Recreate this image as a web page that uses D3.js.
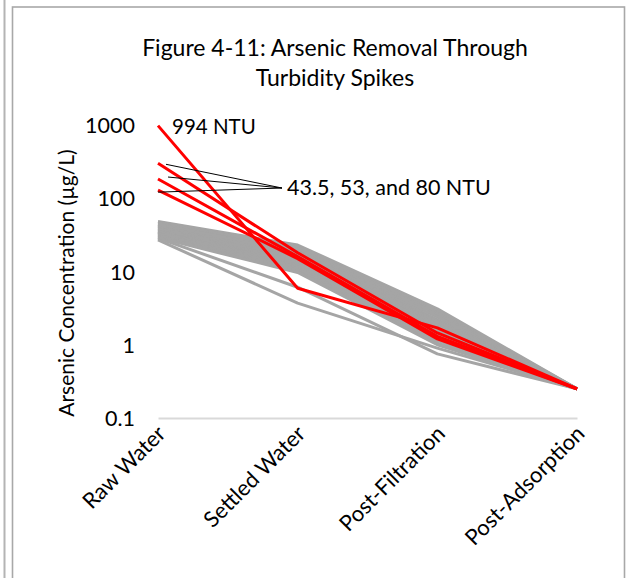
<!DOCTYPE html>
<html><head><meta charset="utf-8">
<script src="https://cdn.jsdelivr.net/npm/d3@7"></script>
<style>
body{margin:0;background:#fff}
svg text{font-family:Lato,"Open Sans",sans-serif;fill:#000}
</style>
</head><body><svg id="c" width="627" height="578"></svg>
<script>
// ---- data ----
const categories = ["Raw Water", "Settled Water", "Post-Filtration", "Post-Adsorption"];
const yTickValues = [0.1, 1, 10, 100, 1000];
const yTickLabels = ["0.1", "1", "10", "100", "1000"];
const titleLines = ["Figure 4-11: Arsenic Removal Through", "Turbidity Spikes"];
const yAxisTitle = "Arsenic Concentration (µg/L)";
// turbidity-spike runs (red)
const spike994 = [980, 5.9, 1.7, 0.25];
const spike80 = [300, 18, 1.45, 0.25];
const spike53 = [183, 16, 1.3, 0.25];
const spike435 = [129, 15, 1.2, 0.25];
const redSeries = [spike994, spike80, spike53, spike435];
// normal runs (gray)
const graySeries = [
  [48, 23, 3.1, 0.25],
  [47, 22, 2.9, 0.25],
  [45, 21.5, 2.7, 0.25],
  [44, 20, 2.6, 0.25],
  [43, 19, 2.4, 0.25],
  [42, 18.5, 2.2, 0.25],
  [41, 17, 2.1, 0.25],
  [40, 16.5, 2.0, 0.25],
  [39, 15.5, 1.9, 0.25],
  [38, 15, 1.8, 0.25],
  [37, 14, 1.7, 0.25],
  [36, 13.5, 1.6, 0.25],
  [35, 13, 1.55, 0.25],
  [34.5, 12.5, 1.45, 0.25],
  [34, 12, 1.4, 0.25],
  [33, 11.5, 1.35, 0.25],
  [32, 11, 1.25, 0.25],
  [31, 10.5, 1.15, 0.25],
  [30, 10, 1.05, 0.25],
  [29, 9.7, 1.0, 0.25],
  [28.5, 6.1, 0.75, 0.25],
  [27, 3.7, 0.9, 0.25]
];
const label994 = "994 NTU";
const labelOthers = "43.5, 53, and 80 NTU";

// ---- drawing ----
const svg = d3.select("#c");
const W = 627, H = 578;

// frame
svg.append("line").attr("x1",4.5).attr("x2",4.5).attr("y1",0).attr("y2",H)
  .attr("stroke","#b4b4b4").attr("stroke-width",2);
svg.append("rect").attr("x",12.5).attr("y",7).attr("width",612).attr("height",H+20)
  .attr("fill","none").attr("stroke","#a8a8a8").attr("stroke-width",1.6);

const x = d3.scalePoint().domain(categories).range([158, 577]).padding(0);
const y = d3.scaleLog().domain([0.1, 1000]).range([418, 125]);

// title
svg.append("text").attr("x",335).attr("y",56).attr("text-anchor","middle")
  .style("font-size","23px").text(titleLines[0]);
svg.append("text").attr("x",335).attr("y",86).attr("text-anchor","middle")
  .style("font-size","23px").text(titleLines[1]);

// y axis (labels only)
const yAxis = d3.axisLeft(y).tickValues(yTickValues)
  .tickFormat((d,i)=>yTickLabels[i]).tickSize(0).tickPadding(0);
const gy = svg.append("g").attr("transform","translate(135,0)").call(yAxis);
gy.select(".domain").remove();
gy.selectAll("text").style("font-size","21.5px").attr("dy","0.35em");

// category axis line (at 0.1)
const xAxis = d3.axisBottom(x).tickSize(0).tickFormat("");
const gx = svg.append("g").attr("transform",`translate(0,${y(0.1)})`).call(xAxis);
gx.select(".domain").attr("stroke","#d9d9d9").attr("stroke-width",2);

// category labels rotated
svg.append("g").selectAll("text").data(categories).join("text")
  .attr("transform",d=>`translate(${x(d)+9},${y(0.1)+17}) rotate(-45)`)
  .attr("text-anchor","end").style("font-size","22px").text(d=>d);

// y axis title
svg.append("text").attr("transform","translate(74,283) rotate(-90)")
  .attr("text-anchor","middle").style("font-size","21px").text(yAxisTitle);

const line = d3.line().x((d,i)=>x(categories[i])).y(d=>y(d));

svg.append("g").selectAll("path").data(graySeries).join("path")
  .attr("d",line).attr("fill","none").attr("stroke","#a5a5a5")
  .attr("stroke-width",3).attr("stroke-linejoin","round");
svg.append("g").selectAll("path").data(redSeries).join("path")
  .attr("d",line).attr("fill","none").attr("stroke","#ff0000")
  .attr("stroke-width",3).attr("stroke-linejoin","round");

// annotations
const x0 = x(categories[0]);
svg.append("text").attr("x",x0+14).attr("y",y(spike994[0])+8)
  .style("font-size","20.5px").text(label994);
const hub = [x0+124, y(spike53[0])+9];
const starts = [[x0+8, y(spike80[0])+1],[x0+10, y(spike53[0])-2],[x0, y(spike435[0])+2]];
svg.append("g").selectAll("line").data(starts).join("line")
  .attr("x1",d=>d[0]).attr("y1",d=>d[1]).attr("x2",hub[0]).attr("y2",hub[1])
  .attr("stroke","#000").attr("stroke-width",1);
svg.append("text").attr("x",hub[0]+5).attr("y",hub[1]+7)
  .style("font-size","21.5px").text(labelOthers);
</script></body></html>
